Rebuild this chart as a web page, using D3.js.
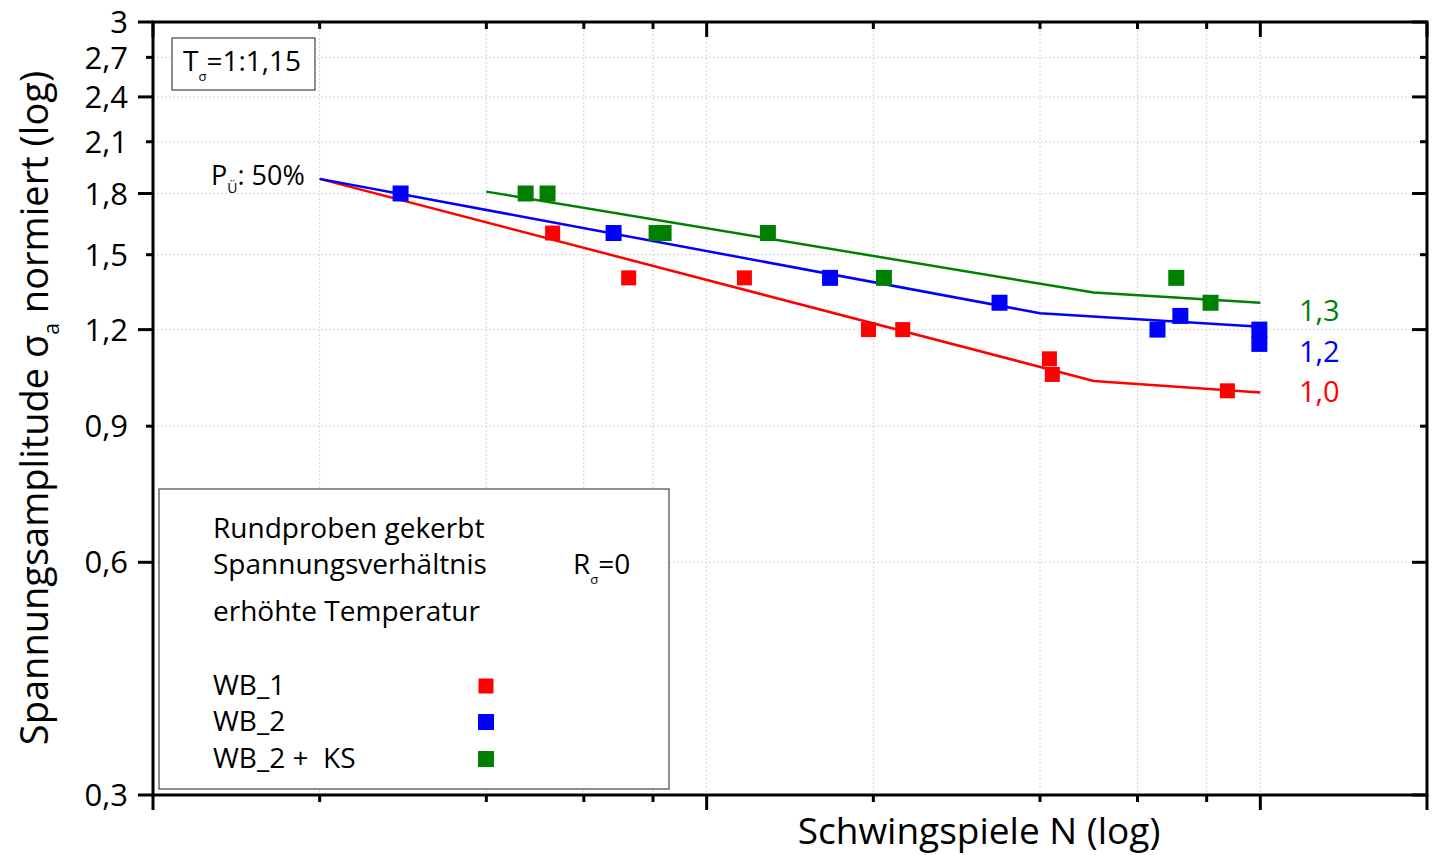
<!DOCTYPE html>
<html>
<head>
<meta charset="utf-8">
<script src="https://cdn.jsdelivr.net/npm/d3@7"></script>
<style>
  body { margin: 0; background: #fff; }
  text { font-family: "Open Sans", "Noto Sans", sans-serif; fill: #000; }
</style>
</head>
<body>
<div id="chart"></div>
<script>
const WIDTH = 1432;
const HEIGHT = 855;

// measured points (N in relative units, sigma_a normalised)
const wb1_N = [5.27, 7.23, 11.7, 19.6, 22.6, 41.6, 42.1, 87.2];
const wb1_S = [1.6, 1.4, 1.4, 1.2, 1.2, 1.10, 1.05, 1.0];
const wb2_N = [2.8, 6.79, 16.7, 33.8, 65.2, 71.7, 99.6, 99.6];
const wb2_S = [1.8, 1.6, 1.4, 1.3, 1.2, 1.25, 1.2, 1.15];
const ks_N = [4.71, 5.16, 8.12, 8.36, 12.9, 20.9, 70.5, 81.3];
const ks_S = [1.8, 1.8, 1.6, 1.6, 1.6, 1.4, 1.4, 1.3];

// Woehler lines for P_Ü 50%
const fit1_N = [2, 50, 100];
const fit1_S = [1.88, 1.03, 0.995];
const fit2_N = [2, 40, 100];
const fit2_S = [1.88, 1.26, 1.21];
const fitKs_N = [4, 50, 100];
const fitKs_S = [1.81, 1.34, 1.30];

const xTicks = [1, 2, 4, 6, 8, 10, 20, 40, 60, 80, 100, 200];
const xMajor = [1, 10, 100, 200];
const yTicks = [0.3, 0.6, 0.9, 1.2, 1.5, 1.8, 2.1, 2.4, 2.7, 3];
const yMajor = [0.3, 0.6, 1.2, 1.8, 2.4, 3];
const yTickLabels = ["0,3", "0,6", "0,9", "1,2", "1,5", "1,8", "2,1", "2,4", "2,7", "3"];

const endLabels = ["1,3", "1,2", "1,0"];
const legendNames = ["WB_1", "WB_2", "WB_2 +  KS"];
const colors = ["#ff0000", "#0000ff", "#008000"];

let svg = d3.select("#chart")
    .append("svg")
    .attr("width", WIDTH)
    .attr("height", HEIGHT);

let x = d3.scaleLog().domain([1, 200]).range([153, 1427]);
let y = d3.scaleLog().domain([0.3, 3]).range([795, 22]);

// grid
svg.append("g")
    .selectAll("line")
    .data(xTicks.filter(d => d > 1 && d < 200))
    .enter()
    .append("line")
    .attr("x1", d => x(d)).attr("x2", d => x(d))
    .attr("y1", y(3)).attr("y2", y(0.3))
    .style("stroke", "#d4d4d4")
    .style("stroke-dasharray", "2,2");

svg.append("g")
    .selectAll("line")
    .data(yTicks.filter(d => d > 0.3 && d < 3))
    .enter()
    .append("line")
    .attr("x1", x(1)).attr("x2", x(200))
    .attr("y1", d => y(d)).attr("y2", d => y(d))
    .style("stroke", "#d4d4d4")
    .style("stroke-dasharray", "2,2");

// axes: bottom + left outward, top + right inward
let tickLen = (isMajor) => isMajor ? 15 : 7;

let axisBottom = svg.append("g").attr("transform", `translate(0,${y(0.3)})`);
xTicks.forEach(function(t) {
    let l = tickLen(xMajor.includes(t));
    axisBottom.append("line").attr("x1", x(t)).attr("x2", x(t)).attr("y1", 0).attr("y2", l)
        .style("stroke", "#000").style("stroke-width", 3);
});
let axisTop = svg.append("g").attr("transform", `translate(0,${y(3)})`);
xTicks.forEach(function(t) {
    let l = tickLen(xMajor.includes(t));
    axisTop.append("line").attr("x1", x(t)).attr("x2", x(t)).attr("y1", 0).attr("y2", l)
        .style("stroke", "#000").style("stroke-width", 3);
});

let axisLeft = svg.append("g").attr("transform", `translate(${x(1)},0)`);
yTicks.forEach(function(t, i) {
    let l = tickLen(yMajor.includes(t));
    axisLeft.append("line").attr("x1", -l).attr("x2", 0).attr("y1", y(t)).attr("y2", y(t))
        .style("stroke", "#000").style("stroke-width", 3);
    axisLeft.append("text")
        .attr("x", -25)
        .attr("y", y(t))
        .attr("dy", "0.36em")
        .style("text-anchor", "end")
        .style("font-size", "31px")
        .text(yTickLabels[i]);
});
let axisRight = svg.append("g").attr("transform", `translate(${x(200)},0)`);
yTicks.forEach(function(t) {
    let l = tickLen(yMajor.includes(t));
    axisRight.append("line").attr("x1", -l).attr("x2", 0).attr("y1", y(t)).attr("y2", y(t))
        .style("stroke", "#000").style("stroke-width", 3);
});

svg.append("rect")
    .attr("x", x(1)).attr("y", y(3))
    .attr("width", x(200) - x(1)).attr("height", y(0.3) - y(3))
    .style("fill", "none")
    .style("stroke", "#000")
    .style("stroke-width", 3);

// axis titles
svg.append("text")
    .attr("x", 979)
    .attr("y", 844)
    .style("text-anchor", "middle")
    .style("font-size", "37px")
    .text("Schwingspiele N (log)");

let ytitle = svg.append("text")
    .attr("transform", "translate(48,408) rotate(-90)")
    .style("text-anchor", "middle")
    .style("font-size", "38px");
ytitle.append("tspan").text("Spannungsamplitude σ");
ytitle.append("tspan").attr("dy", 11).style("font-size", "21px").text("a");
ytitle.append("tspan").attr("dy", -11).text(" normiert (log)");

// fitted lines
let line = d3.line().x(d => x(d[0])).y(d => y(d[1]));
let fits = [
    d3.zip(fit1_N, fit1_S),
    d3.zip(fit2_N, fit2_S),
    d3.zip(fitKs_N, fitKs_S)
];
fits.forEach(function(f, i) {
    svg.append("path")
        .attr("d", line(f))
        .style("fill", "none")
        .style("stroke", colors[i])
        .style("stroke-width", 2.5);
});

// measured points
let series = [
    d3.zip(wb1_N, wb1_S),
    d3.zip(wb2_N, wb2_S),
    d3.zip(ks_N, ks_S)
];
let sizes = [15, 16, 16];
series.forEach(function(s, i) {
    svg.append("g")
        .selectAll("rect")
        .data(s)
        .enter()
        .append("rect")
        .attr("x", d => x(d[0]) - sizes[i] / 2)
        .attr("y", d => y(d[1]) - sizes[i] / 2)
        .attr("width", sizes[i])
        .attr("height", sizes[i])
        .style("fill", colors[i]);
});

// end labels of the lines, with white backing over the grid
let labelOrder = [2, 1, 0];
let labelY = [321, 362, 402];
labelOrder.forEach(function(ci, k) {
    let g = svg.append("g");
    let bg = g.append("rect").style("fill", "#fff");
    let t = g.append("text")
        .attr("x", 1299)
        .attr("y", labelY[k])
        .style("font-size", "29px")
        .style("fill", colors[ci])
        .text(endLabels[k]);
    let bb = t.node().getBBox();
    bg.attr("x", bb.x - 20).attr("y", bb.y + 4)
        .attr("width", bb.width + 30).attr("height", bb.height - 8);
});

// start annotation
let pu = svg.append("text")
    .attr("x", 211)
    .attr("y", 185)
    .style("font-size", "27px");
pu.append("tspan").text("P");
pu.append("tspan").attr("dy", 8).style("font-size", "14px").text("Ü");
pu.append("tspan").attr("dy", -8).text(": 50%");

// T box
svg.append("rect")
    .attr("x", 172).attr("y", 38)
    .attr("width", 143).attr("height", 52)
    .style("fill", "#fff")
    .style("stroke", "#444")
    .style("stroke-width", 1.2);
let tt = svg.append("text")
    .attr("x", 183)
    .attr("y", 71)
    .style("font-size", "28px");
tt.append("tspan").text("T");
tt.append("tspan").attr("dy", 10).style("font-size", "13px").text("σ");
tt.append("tspan").attr("dy", -10).text("=1:1,15");

// legend
let lg = svg.append("g");
lg.append("rect")
    .attr("x", 159).attr("y", 489)
    .attr("width", 510).attr("height", 300)
    .style("fill", "#fff")
    .style("stroke", "#444")
    .style("stroke-width", 1.2);

let infoLines = ["Rundproben gekerbt", "Spannungsverhältnis", "erhöhte Temperatur"];
let infoY = [538, 574, 621];
infoLines.forEach(function(s, i) {
    lg.append("text")
        .attr("x", 213)
        .attr("y", infoY[i])
        .style("font-size", "28px")
        .text(s);
});
let rs = lg.append("text")
    .attr("x", 573)
    .attr("y", 574)
    .style("font-size", "28px");
rs.append("tspan").text("R");
rs.append("tspan").attr("dy", 10).style("font-size", "13px").text("σ");
rs.append("tspan").attr("dy", -10).text("=0");

let legY = [695, 731, 768];
legendNames.forEach(function(name, i) {
    lg.append("text")
        .attr("x", 213)
        .attr("y", legY[i])
        .style("font-size", "28px")
        .style("white-space", "pre")
        .text(name);
    lg.append("rect")
        .attr("x", 486 - sizes[i] / 2)
        .attr("y", legY[i] - 9 - sizes[i] / 2)
        .attr("width", sizes[i])
        .attr("height", sizes[i])
        .style("fill", colors[i]);
});
</script>
</body>
</html>
